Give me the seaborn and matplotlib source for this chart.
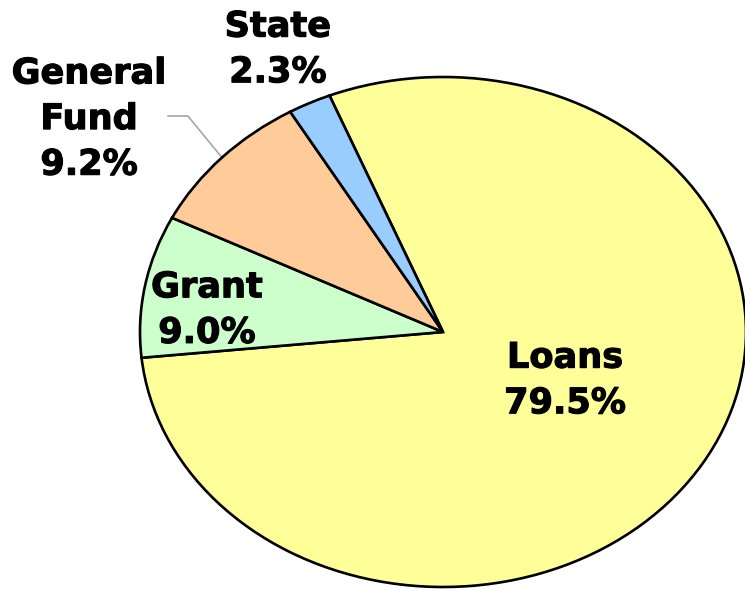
import numpy as np
import matplotlib
matplotlib.use("Agg")
import matplotlib.pyplot as plt
import matplotlib.patheffects as pe
import seaborn as sns

# Funding sources and their shares (%)
categories = ["Loans", "Grant", "General\nFund", "State"]
shares = [79.5, 9.0, 9.2, 2.3]
colors = ["#FFFF99", "#CCFFCC", "#FFCC99", "#99CCFF"]

# Label anchor points (axes data units, pie radius = 1)
label_pos = {
    "Loans": (0.403, -0.190),
    "Grant": (-0.779, 0.086),
    "General\nFund": (-1.168, 0.835),
    "State": (-0.545, 1.108),
}

sns.set_theme(style="white")
plt.rcParams["font.family"] = ["DejaVu Sans"]

fig = plt.figure(figsize=(7.45, 5.9), dpi=100)
fig.patch.set_facecolor("white")
ax = fig.add_axes([0.18792, 0.005085, 0.81342, 0.86441])

wedges, _ = ax.pie(
    shares,
    colors=colors,
    startangle=112,
    counterclock=False,
    wedgeprops=dict(edgecolor="black", linewidth=1.9),
)
for w in wedges:
    w.set_clip_on(False)

# stretch the pie horizontally into an ellipse
ax.set_aspect("auto")
ax.set_xlim(-1, 1)
ax.set_ylim(-1, 1)
ax.axis("off")

heavy = [pe.withStroke(linewidth=0.8, foreground="black")]
for cat, share in zip(categories, shares):
    x, y = label_pos[cat]
    ax.text(x, y, f"{cat}\n{share:.1f}%", ha="center", va="center",
            fontsize=25.3, fontweight="bold", color="black",
            linespacing=1.43, multialignment="center", path_effects=heavy)

# leader line for the General Fund label, ending at the wedge's mid-angle
gf = wedges[categories.index("General\nFund")]
mid = np.deg2rad((gf.theta1 + gf.theta2) / 2)
ex, ey = np.cos(mid), np.sin(mid)
ax.plot([-0.908, -0.842, ex], [0.847, 0.847, ey], color="#A6A6A6",
        linewidth=1.2, clip_on=False, zorder=0.5)

fig.savefig("out.png", dpi=100, facecolor="white")
